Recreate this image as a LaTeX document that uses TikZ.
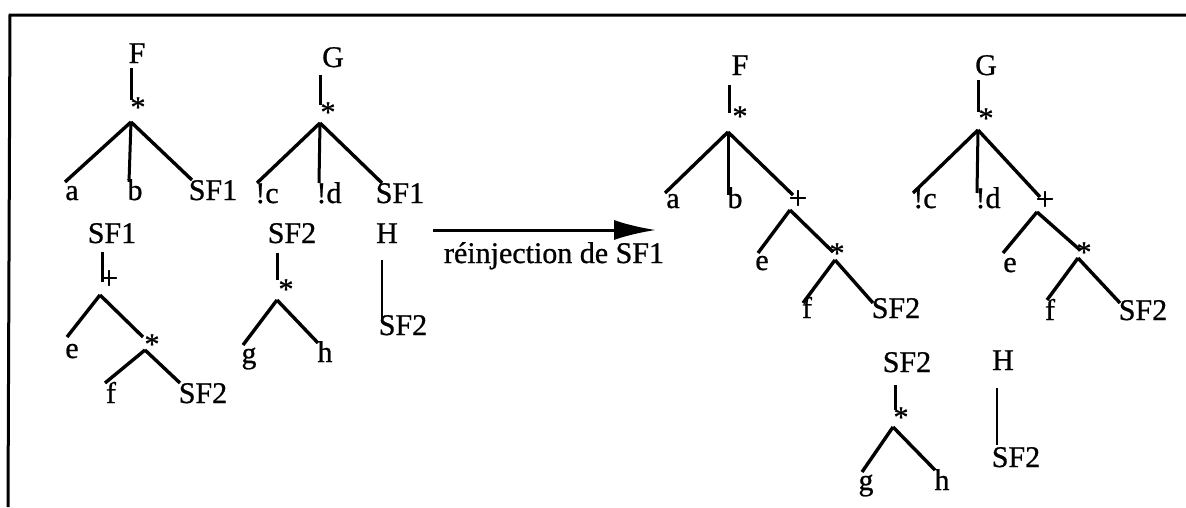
\documentclass[tikz,border=0pt]{standalone}
\usepackage{fontspec}
\setmainfont[FakeBold=0.8]{Liberation Serif}
\usetikzlibrary{arrows.meta}
\tikzset{
  lbl/.style={inner sep=0pt, anchor=base, font=\fontsize{30}{36}\selectfont},
  op/.style={inner sep=0pt, anchor=base, font=\fontsize{30}{36}\selectfont},
  opp/.style={inner sep=0pt, anchor=base, font=\fontsize{33}{38}\selectfont},
  branch/.style={line width=3.4pt},
  stem/.style={line width=3pt},
  thinstem/.style={line width=2pt},
  frame/.style={line width=3pt},
  arr/.style={line width=3pt, -{Latex[length=42pt,width=20pt]}}
}
\begin{document}
\begin{tikzpicture}[x=1pt,y=-1pt]
\useasboundingbox (0,0) rectangle (1186,507);
% frame
\coordinate (fr-tl) at (10,15);
\coordinate (fr-tr) at (1186,15);
\coordinate (fr-bl) at (8,507);
\draw[frame] (fr-tr) -- (fr-tl) -- (fr-bl);

% ===== left F tree =====
\node[lbl] (lF) at (137,63) {F};
\coordinate (lF-t) at (131,68); \coordinate (lF-s) at (131,100);
\node[op] (lFst) at (138,117) {*};
\coordinate (lF-r) at (131,122);
\coordinate (lF-1) at (65,182); \coordinate (lF-2) at (129,182); \coordinate (lF-3) at (192,180);
\node[lbl] (lFa) at (72,200) {a};
\node[lbl] (lFb) at (135,200) {b};
\node[lbl] (lFc) at (213,200) {SF1};
\draw[stem] (lF-t) -- (lF-s);
\draw[branch] (lF-r) -- (lF-1);
\draw[stem] (lF-r) -- (lF-2);
\draw[branch] (lF-r) -- (lF-3);

% ===== left G tree =====
\node[lbl] (lG) at (333,67) {G};
\coordinate (lG-t) at (320,75); \coordinate (lG-s) at (320,105);
\node[op] (lGst) at (328,122) {*};
\coordinate (lG-r) at (320,123);
\coordinate (lG-1) at (257,183); \coordinate (lG-2) at (319,183); \coordinate (lG-3) at (382,183);
\node[lbl] (lGc) at (267,203) {!c};
\node[lbl] (lGd) at (329,203) {!d};
\node[lbl] (lGe) at (400,203) {SF1};
\draw[stem] (lG-t) -- (lG-s);
\draw[branch] (lG-r) -- (lG-1);
\draw[stem] (lG-r) -- (lG-2);
\draw[branch] (lG-r) -- (lG-3);

% ===== lower SF1 tree =====
\node[lbl] (s1) at (112,243) {SF1};
\coordinate (s1-t) at (102,252); \coordinate (s1-s) at (102,282);
\node[opp] (s1p) at (109,289) {+};
\coordinate (s1-r) at (100,295);
\coordinate (s1-1) at (67,337); \coordinate (s1-2) at (143,337);
\node[lbl] (s1e) at (72,358) {e};
\node[op] (s1st) at (152,354) {*};
\coordinate (s1-r2) at (145,350);
\coordinate (s1-3) at (105,383); \coordinate (s1-4) at (180,383);
\node[lbl] (s1f) at (111,403) {f};
\node[lbl] (s1g) at (203,403) {SF2};
\draw[stem] (s1-t) -- (s1-s);
\draw[branch] (s1-r) -- (s1-1);
\draw[branch] (s1-r) -- (s1-2);
\draw[branch] (s1-r2) -- (s1-3);
\draw[branch] (s1-r2) -- (s1-4);

% ===== middle SF2 tree =====
\node[lbl] (s2) at (292,243) {SF2};
\coordinate (s2-t) at (277,253); \coordinate (s2-s) at (277,280);
\node[op] (s2st) at (286,299) {*};
\coordinate (s2-r) at (277,300);
\coordinate (s2-1) at (243,345); \coordinate (s2-2) at (318,343);
\node[lbl] (s2g) at (249,363) {g};
\node[lbl] (s2h) at (325,362) {h};
\draw[stem] (s2-t) -- (s2-s);
\draw[branch] (s2-r) -- (s2-1);
\draw[branch] (s2-r) -- (s2-2);

% ===== H =====
\node[lbl] (hH) at (387,243) {H};
\coordinate (h-t) at (382,260); \coordinate (h-s) at (382,320);
\node[lbl] (hS) at (403,335) {SF2};
\draw[thinstem] (h-t) -- (h-s);

% ===== arrow =====
\coordinate (ar-s) at (433,230); \coordinate (ar-e) at (656,230);
\draw[arr] (ar-s) -- (ar-e);
\node[lbl] (arl) at (554,263) {réinjection de SF1};

% ===== right F tree =====
\node[lbl] (rF) at (740,75) {F};
\coordinate (rF-t) at (729,85); \coordinate (rF-s) at (729,113);
\node[op] (rFst) at (740,126) {*};
\coordinate (rF-r) at (728,132);
\coordinate (rF-1) at (665,193); \coordinate (rF-2) at (728,195); \coordinate (rF-3) at (793,195);
\node[lbl] (rFa) at (673,208) {a};
\node[lbl] (rFb) at (735,208) {b};
\node[opp] (rFp) at (798,209) {+};
\coordinate (rF-r2) at (790,210);
\coordinate (rF-4) at (758,253); \coordinate (rF-5) at (833,252);
\node[lbl] (rFe) at (762,270) {e};
\node[op] (rFst2) at (837,263) {*};
\coordinate (rF-r3) at (835,260);
\coordinate (rF-6) at (803,303); \coordinate (rF-7) at (873,303);
\node[lbl] (rFf) at (807,318) {f};
\node[lbl] (rFg) at (896,318) {SF2};
\draw[stem] (rF-t) -- (rF-s);
\draw[branch] (rF-r) -- (rF-1);
\draw[stem] (rF-r) -- (rF-2);
\draw[branch] (rF-r) -- (rF-3);
\draw[branch] (rF-r2) -- (rF-4);
\draw[branch] (rF-r2) -- (rF-5);
\draw[branch] (rF-r3) -- (rF-6);
\draw[branch] (rF-r3) -- (rF-7);

% ===== right G tree =====
\node[lbl] (rG) at (986,75) {G};
\coordinate (rG-t) at (978,80); \coordinate (rG-s) at (978,112);
\node[op] (rGst) at (986,128) {*};
\coordinate (rG-r) at (978,130);
\coordinate (rG-1) at (913,193); \coordinate (rG-2) at (977,193); \coordinate (rG-3) at (1040,197);
\node[lbl] (rGc) at (925,208) {!c};
\node[lbl] (rGd) at (988,208) {!d};
\node[opp] (rGp) at (1045,210) {+};
\coordinate (rG-r2) at (1037,212);
\coordinate (rG-4) at (1003,253); \coordinate (rG-5) at (1080,250);
\node[lbl] (rGe) at (1010,272) {e};
\node[op] (rGst2) at (1084,262) {*};
\coordinate (rG-r3) at (1078,258);
\coordinate (rG-6) at (1047,300); \coordinate (rG-7) at (1120,303);
\node[lbl] (rGf) at (1050,320) {f};
\node[lbl] (rGg) at (1143,320) {SF2};
\draw[stem] (rG-t) -- (rG-s);
\draw[branch] (rG-r) -- (rG-1);
\draw[stem] (rG-r) -- (rG-2);
\draw[branch] (rG-r) -- (rG-3);
\draw[branch] (rG-r2) -- (rG-4);
\draw[branch] (rG-r2) -- (rG-5);
\draw[branch] (rG-r3) -- (rG-6);
\draw[branch] (rG-r3) -- (rG-7);

% ===== right lower SF2 tree =====
\node[lbl] (r2) at (907,372) {SF2};
\coordinate (r2-t) at (895,385); \coordinate (r2-s) at (895,410);
\node[op] (r2st) at (901,427) {*};
\coordinate (r2-r) at (893,427);
\coordinate (r2-1) at (862,472); \coordinate (r2-2) at (935,470);
\node[lbl] (r2g) at (866,490) {g};
\node[lbl] (r2h) at (942,490) {h};
\draw[stem] (r2-t) -- (r2-s);
\draw[branch] (r2-r) -- (r2-1);
\draw[branch] (r2-r) -- (r2-2);

% ===== right H =====
\node[lbl] (rH) at (1003,370) {H};
\coordinate (rh-t) at (997,388); \coordinate (rh-s) at (997,445);
\node[lbl] (rHS) at (1016,467) {SF2};
\draw[thinstem] (rh-t) -- (rh-s);
\end{tikzpicture}
\end{document}
